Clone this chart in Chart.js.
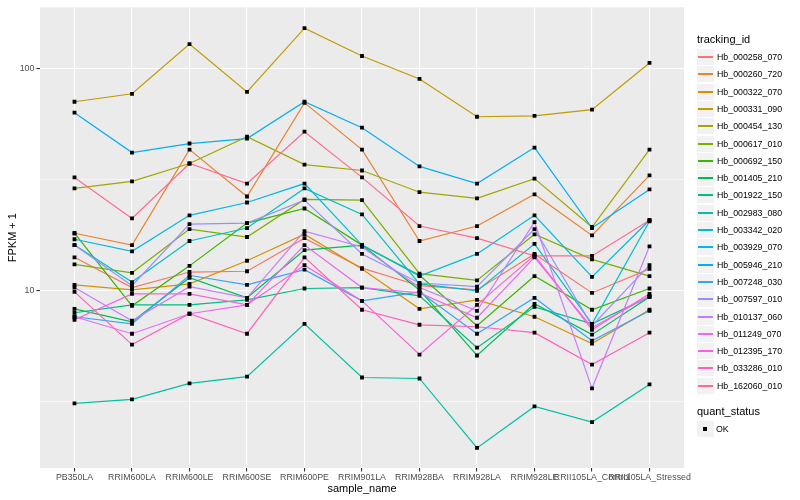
<!DOCTYPE html>
<html>
<head>
<meta charset="utf-8">
<script src="https://cdn.jsdelivr.net/npm/chart.js@4.4.1/dist/chart.umd.min.js"></script>
<style>
  body { margin: 0; background: #fff; font-family: "Liberation Sans", Arial, sans-serif; }
  #wrap { position: relative; width: 800px; height: 500px; }
  #legend { position: absolute; left: 0; top: 0; }
  .lg-title { position: absolute; left: 697px; font-size: 11px; color: #000; white-space: nowrap; }
  .lg-key { position: absolute; left: 697px; width: 17px; height: 16px; background: #F2F2F2; }
  .lg-line { position: absolute; left: 1px; width: 15px; top: 7px; height: 1.6px; }
  .lg-dot { position: absolute; left: 6px; top: 6px; width: 4px; height: 4px; background: #000; }
  .lg-text { position: absolute; left: 717px; font-size: 8.8px; color: #000; line-height: 16px; white-space: nowrap; }
</style>
</head>
<body>
<div id="wrap">
  <canvas id="chart" width="800" height="500"></canvas>
  <div id="legend"></div>
</div>
<script>
// categories
const samples = ['PB350LA', 'RRIM600LA', 'RRIM600LE', 'RRIM600SE', 'RRIM600PE', 'RRIM901LA',
  'RRIM928BA', 'RRIM928LA', 'RRIM928LE', 'RRII105LA_Control', 'RRII105LA_Stressed'];

const trackingIds = ['Hb_000258_070', 'Hb_000260_720', 'Hb_000322_070', 'Hb_000331_090', 'Hb_000454_130',
  'Hb_000617_010', 'Hb_000692_150', 'Hb_001405_210', 'Hb_001922_150', 'Hb_002983_080',
  'Hb_003342_020', 'Hb_003929_070', 'Hb_005946_210', 'Hb_007248_030', 'Hb_007597_010',
  'Hb_010137_060', 'Hb_011249_070', 'Hb_012395_170', 'Hb_033286_010', 'Hb_162060_010'];

// ggplot hue palette, 20 levels
const colors = ['#F8766D', '#EA8331', '#D89000', '#C09B00', '#A3A500', '#7CAE00', '#39B600', '#00BB4E',
  '#00BF7D', '#00C1A3', '#00BFC4', '#00BAE0', '#00B0F6', '#35A2FF', '#9590FF', '#C77CFF',
  '#E76BF3', '#FA62DB', '#FF62BC', '#FF6C91'];

// FPKM + 1, one value per sample
const hb000258_070 = [14.1, 10.3, 12.1, 12.2, 17.2, 12.6, 10.5, 10.05, 14.6, 9.74, 12.5];
const hb000260_720 = [18.1, 16.0, 43.1, 26.5, 70.0, 43.1, 16.7, 19.5, 27.1, 17.7, 33.0];
const hb000322_070 = [10.6, 10.05, 10.7, 13.6, 17.9, 12.5, 8.26, 9.07, 7.61, 5.76, 8.18];
const hb000331_090 = [70.8, 76.9, 128.8, 78.4, 151.9, 113.8, 89.7, 60.6, 61.2, 65.2, 105.9];
const hb000454_130 = [28.8, 31.0, 37.3, 49.3, 36.9, 34.7, 27.7, 26.0, 31.9, 19.3, 43.1];
const hb000617_010 = [13.1, 12.0, 18.9, 17.4, 25.7, 25.5, 11.9, 11.1, 17.9, 13.8, 11.6];
const hb000692_150 = [18.1, 8.52, 12.9, 20.1, 23.4, 16.0, 11.7, 6.93, 11.6, 8.18, 10.2];
const hb001405_210 = [8.26, 7.22, 11.4, 9.26, 15.2, 16.0, 10.05, 5.09, 8.70, 6.32, 9.35];
const hb001922_150 = [7.93, 8.61, 8.61, 9.07, 10.2, 10.3, 9.45, 5.52, 8.43, 7.07, 9.35];
const hb002983_080 = [3.10, 3.23, 3.81, 4.09, 7.07, 4.05, 4.01, 1.95, 3.00, 2.55, 3.77];
const hb003342_020 = [16.0, 10.9, 16.7, 19.1, 28.8, 22.0, 10.7, 9.95, 16.2, 7.07, 20.5];
const hb003929_070 = [17.0, 15.0, 21.8, 24.9, 30.3, 16.0, 11.6, 14.6, 21.8, 11.5, 20.7];
const hb005946_210 = [63.2, 41.8, 45.9, 48.3, 70.8, 54.1, 36.2, 30.3, 44.0, 19.1, 28.5];
const hb007248_030 = [7.61, 7.07, 11.7, 10.6, 12.4, 8.97, 9.85, 6.38, 9.26, 5.93, 8.09];
const hb007597_010 = [16.0, 10.5, 19.9, 20.1, 25.5, 14.6, 10.8, 10.4, 18.9, 6.93, 13.0];
const hb010137_060 = [10.3, 7.30, 10.4, 9.26, 18.5, 15.7, 10.3, 8.09, 20.3, 3.62, 15.8];
const hb011249_070 = [7.61, 6.38, 7.85, 8.61, 16.0, 10.3, 9.74, 7.53, 14.1, 6.79, 9.45];
const hb012395_170 = [7.37, 9.65, 9.65, 8.61, 13.0, 8.97, 5.14, 8.61, 14.4, 6.65, 9.65];
const hb033286_010 = [9.85, 5.70, 7.85, 6.38, 14.1, 8.18, 7.00, 6.86, 6.45, 4.63, 6.45];
const hb162060_010 = [32.3, 21.1, 37.3, 30.3, 51.9, 32.3, 19.5, 17.2, 14.3, 14.3, 20.7];

const seriesValues = [hb000258_070, hb000260_720, hb000322_070, hb000331_090, hb000454_130,
  hb000617_010, hb000692_150, hb001405_210, hb001922_150, hb002983_080,
  hb003342_020, hb003929_070, hb005946_210, hb007248_030, hb007597_010,
  hb010137_060, hb011249_070, hb012395_170, hb033286_010, hb162060_010];

// y axis: log10 scale, labels on decades, minor grid at half decades
const yTicks = [Math.sqrt(10), 10, Math.sqrt(1000), 100];
const yLabels = [10, 100];

const isMajor = v => yLabels.some(m => Math.abs(m - v) < 1e-6);

const panelBg = {
  id: 'panelBg',
  beforeDraw(chart) {
    const { ctx, chartArea: a } = chart;
    ctx.save();
    ctx.fillStyle = '#EBEBEB';
    ctx.fillRect(a.left, a.top, a.right - a.left, a.bottom - a.top);
    ctx.restore();
  }
};

const n = seriesValues.length;
const datasets = seriesValues.map((vals, i) => ({
  label: trackingIds[i],
  data: vals.map((v, j) => ({ x: j, y: v })),
  borderColor: colors[i],
  borderWidth: 1.2,
  pointRadius: 0,
  fill: false,
  tension: 0,
  order: n - i
}));

// points on top of every line (quant_status = OK)
datasets.push({
  label: 'OK',
  data: seriesValues.flatMap(vals => vals.map((v, j) => ({ x: j, y: v }))),
  showLine: false,
  pointStyle: 'rect',
  pointRadius: 2.7,
  pointBackgroundColor: '#000',
  pointBorderWidth: 0,
  order: 0
});

new Chart(document.getElementById('chart'), {
  type: 'line',
  data: { datasets },
  plugins: [panelBg],
  options: {
    responsive: false,
    animation: false,
    layout: { padding: { left: 0, top: 5, right: 116, bottom: 0 } },
    plugins: { legend: { display: false }, tooltip: { enabled: false } },
    scales: {
      x: {
        type: 'linear',
        min: -0.6,
        max: samples.length - 1 + 0.6,
        afterBuildTicks: s => { s.ticks = samples.map((_, i) => ({ value: i })); },
        afterFit: s => { s.height = 32; },
        border: { display: false },
        grid: { color: '#FFFFFF', lineWidth: 1.1, tickColor: '#333333', tickLength: 3.6 },
        ticks: {
          autoSkip: false, maxRotation: 0, minRotation: 0, padding: 1,
          color: '#4D4D4D', font: { family: '"Liberation Sans", Arial, sans-serif', size: 8.8 },
          callback: v => samples[v]
        },
        title: {
          display: true, text: 'sample_name', color: '#000',
          padding: { top: 0, bottom: 4 },
          font: { family: '"Liberation Sans", Arial, sans-serif', size: 11 }
        }
      },
      y: {
        type: 'logarithmic',
        min: 1.584,
        max: 188.7,
        afterBuildTicks: s => { s.ticks = yTicks.map(v => ({ value: v })); },
        afterFit: s => { s.width = 40; },
        border: { display: false },
        grid: {
          color: '#FFFFFF',
          lineWidth: c => (c.tick && isMajor(c.tick.value) ? 1.1 : 0.55),
          tickColor: c => (c.tick && isMajor(c.tick.value) ? '#333333' : 'rgba(0,0,0,0)'),
          tickLength: 3.6
        },
        ticks: {
          padding: 2, color: '#4D4D4D',
          font: { family: '"Liberation Sans", Arial, sans-serif', size: 8.8 },
          callback: v => (isMajor(v) ? String(Math.round(v)) : '')
        },
        title: {
          display: true, text: 'FPKM + 1', color: '#000',
          padding: { top: 6, bottom: 0 },
          font: { family: '"Liberation Sans", Arial, sans-serif', size: 11 }
        }
      }
    }
  }
});

// legends
const legend = document.getElementById('legend');
const rowH = 17.3;
const firstRow = 49;
let html = '<div class="lg-title" style="top:33px">tracking_id</div>';
trackingIds.forEach((id, i) => {
  const top = Math.round(firstRow + i * rowH);
  html += '<div class="lg-key" style="top:' + top + 'px"><div class="lg-line" style="background:' + colors[i] + '"></div></div>';
  html += '<div class="lg-text" style="top:' + top + 'px">' + id + '</div>';
});
html += '<div class="lg-title" style="top:405px">quant_status</div>';
html += '<div class="lg-key" style="top:421px"><div class="lg-dot"></div></div>';
html += '<div class="lg-text" style="top:421px;left:716px">OK</div>';
legend.innerHTML = html;
</script>
</body>
</html>
